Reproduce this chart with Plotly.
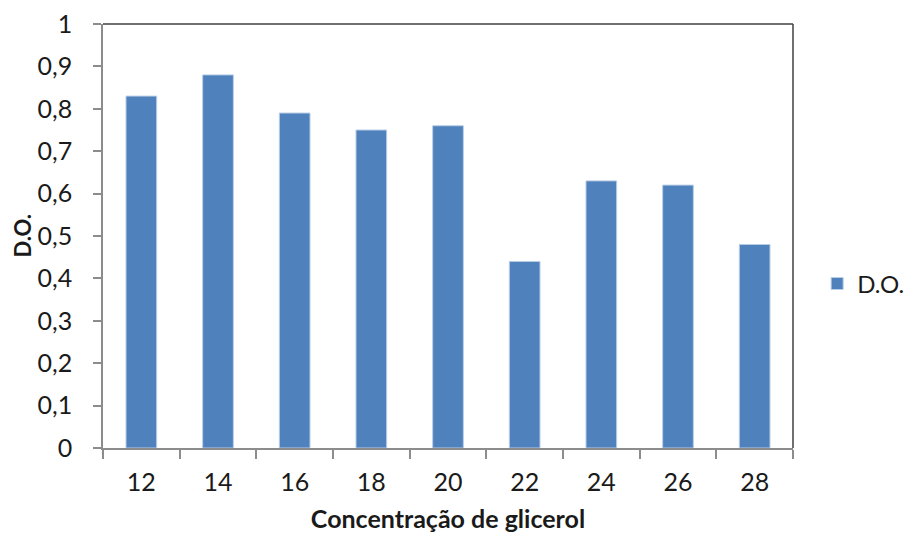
import plotly.graph_objects as go

# Optical density (D.O.) measured for each glycerol concentration
concentracoes = ["12", "14", "16", "18", "20", "22", "24", "26", "28"]
densidade_optica = [0.83, 0.88, 0.79, 0.75, 0.76, 0.44, 0.63, 0.62, 0.48]

FONT = "Lato, Calibri, 'Open Sans', sans-serif"
TEXT = "#1a1a1a"
AXIS_GRAY = "#8c8c8c"

fig = go.Figure(
    go.Bar(
        x=concentracoes,
        y=densidade_optica,
        name="D.O.",
        marker=dict(color="#4F81BD", line=dict(color="#B9CDE5", width=1)),
    )
)

fig.update_layout(
    width=904,
    height=535,
    margin=dict(l=103, r=111, t=24, b=87, autoexpand=False),
    paper_bgcolor="white",
    plot_bgcolor="white",
    separators=", ",
    bargap=0.6,
    font=dict(family=FONT, size=25, color=TEXT),
    showlegend=True,
    legend=dict(
        x=1.035,
        y=0.387,
        xanchor="left",
        yanchor="middle",
        font=dict(size=24, color=TEXT),
        bgcolor="rgba(0,0,0,0)",
        itemwidth=30,
    ),
    xaxis=dict(
        type="category",
        automargin=False,
        showline=True,
        linecolor=AXIS_GRAY,
        linewidth=1.5,
        ticks="outside",
        tickson="boundaries",
        ticklen=9,
        tickcolor=AXIS_GRAY,
        tickwidth=1.5,
        showgrid=False,
        tickfont=dict(size=25),
        ticklabelstandoff=11,
        title=dict(
            text="<b>Concentração de glicerol</b>",
            font=dict(size=25),
            standoff=16,
        ),
    ),
    yaxis=dict(
        range=[0, 1],
        dtick=0.1,
        automargin=False,
        showline=True,
        linecolor=AXIS_GRAY,
        linewidth=1.5,
        ticks="outside",
        ticklen=8,
        tickcolor=AXIS_GRAY,
        tickwidth=1.5,
        showgrid=False,
        zeroline=False,
        tickfont=dict(size=25),
        ticklabelstandoff=16,
    ),
    # vertical y-axis title, placed left of the tick labels
    annotations=[
        dict(
            text="<b>D.O.</b>",
            xref="paper", yref="paper",
            x=-0.118, y=0.5,
            xanchor="center", yanchor="middle",
            textangle=-90,
            showarrow=False,
            font=dict(size=22, color=TEXT),
        )
    ],
    shapes=[
        dict(type="line", xref="paper", yref="paper", x0=0, x1=1, y0=1, y1=1,
             line=dict(color="#404040", width=1.5)),
        dict(type="line", xref="paper", yref="paper", x0=1, x1=1, y0=0, y1=1,
             line=dict(color="#404040", width=1.5)),
    ],
)

fig.write_html("out.html")
